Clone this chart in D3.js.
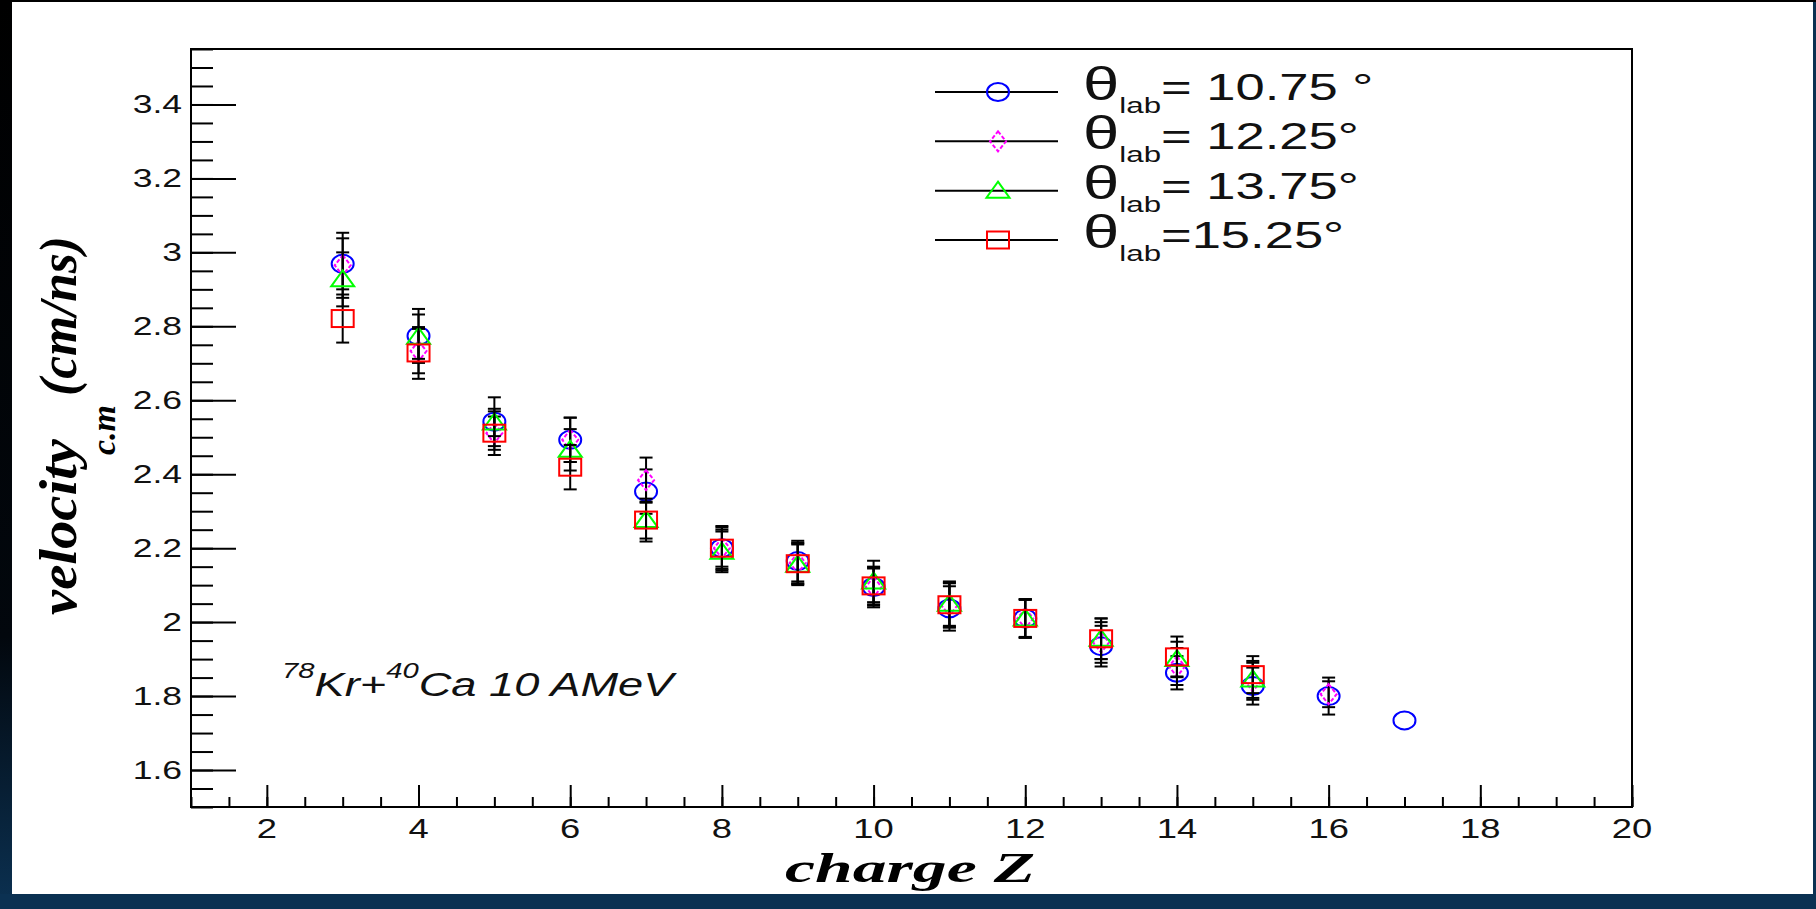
<!DOCTYPE html>
<html>
<head>
<meta charset="utf-8">
<script src="https://cdn.jsdelivr.net/npm/d3@7"></script>
<style>
  html, body { margin: 0; padding: 0; background: #fff; overflow: hidden; }
</style>
</head>
<body>
<svg id="chart" width="1816" height="909"></svg>
<script>
/* ---------------------------- data ---------------------------- */
const chargeZ = [3, 4, 5, 6, 7, 8, 9, 10, 11, 12, 13, 14, 15, 16, 17];

const vel1075 = [2.969, 2.774, 2.542, 2.493, 2.353, 2.20, 2.165, 2.095, 2.037, 2.01, 1.935, 1.863, 1.827, 1.80, 1.734];
const err1075 = [0.069, 0.073, 0.066, 0.06, 0.06, 0.056, 0.055, 0.05, 0.06, 0.052, 0.055, 0.045, 0.05, 0.05, 0];

const vel1225 = [2.965, 2.733, 2.511, 2.493, 2.384, 2.20, 2.16, 2.095, 2.045, 2.01, 1.945, 1.88, 1.84, 1.805];
const err1225 = [0.088, 0.06, 0.045, 0.06, 0.061, 0.05, 0.055, 0.055, 0.06, 0.05, 0.055, 0.05, 0.05, 0.035];

const vel1375 = [2.927, 2.772, 2.54, 2.466, 2.276, 2.19, 2.155, 2.11, 2.05, 2.01, 1.955, 1.90, 1.845];
const err1375 = [0.073, 0.06, 0.037, 0.056, 0.058, 0.055, 0.055, 0.056, 0.06, 0.052, 0.055, 0.047, 0.05];

const vel1525 = [2.821, 2.728, 2.511, 2.419, 2.276, 2.20, 2.158, 2.098, 2.047, 2.01, 1.955, 1.906, 1.858];
const err1525 = [0.065, 0.07, 0.059, 0.06, 0.05, 0.06, 0.055, 0.05, 0.06, 0.052, 0.055, 0.055, 0.05];

const legendLabels = ['= 10.75 \u00b0', '= 12.25\u00b0', '= 13.75\u00b0', '=15.25\u00b0'];

const xTicks = [2, 4, 6, 8, 10, 12, 14, 16, 18, 20];
const yTicks = [1.6, 1.8, 2.0, 2.2, 2.4, 2.6, 2.8, 3.0, 3.2, 3.4];
const yTickLabels = ['1.6', '1.8', '2', '2.2', '2.4', '2.6', '2.8', '3', '3.2', '3.4'];

/* ---------------------------------- layout ---------------------------------- */
const frame = { left: 191, right: 1632, top: 49, bottom: 807 };
const sans = '"Liberation Sans", Arial, Helvetica, sans-serif';
const serif = '"Liberation Serif", "Times New Roman", serif';

const series = [
  { values: vel1075, errors: err1075, color: '#0000ff', shape: 'circle' },
  { values: vel1225, errors: err1225, color: '#ff00ff', shape: 'diamond' },
  { values: vel1375, errors: err1375, color: '#00ff00', shape: 'triangle' },
  { values: vel1525, errors: err1525, color: '#ff0000', shape: 'square' },
];

const svg = d3.select('#chart');

const x = d3.scaleLinear().domain([1, 20]).range([frame.left, frame.right]);
const y = d3.scaleLinear().domain([1.5, 3.55]).range([frame.bottom, frame.top]);

// slide background around the picture
const defs = svg.append('defs');
const grad = defs.append('linearGradient').attr('id', 'edge').attr('x1', 0).attr('y1', 0).attr('x2', 0).attr('y2', 1);
grad.append('stop').attr('offset', '0%').attr('stop-color', '#000');
grad.append('stop').attr('offset', '70%').attr('stop-color', '#02070d');
grad.append('stop').attr('offset', '100%').attr('stop-color', '#0b3152');

svg.append('rect').attr('width', 1816).attr('height', 909).attr('fill', '#fff');
svg.append('rect').attr('width', 12).attr('height', 909).attr('fill', 'url(#edge)');
svg.append('rect').attr('y', 894).attr('width', 1816).attr('height', 15).attr('fill', '#0b3152');
svg.append('rect').attr('x', 1813).attr('width', 3).attr('height', 909).attr('fill', '#0b3152');
svg.append('rect').attr('width', 1816).attr('height', 2).attr('fill', '#000');

// stretch a text horizontally about its anchor (the picture is widened)
const stretch = (sel, sx, ax, ay) => sel.attr('transform', `translate(${ax},${ay}) scale(${sx},1)`);

/* ----------------------------------- axes ----------------------------------- */
const yMinor = d3.range(0, 42).map((i) => +(1.5 + i * 0.05).toFixed(2));
const xMinor = d3.range(0, 39).map((i) => 1 + i * 0.5);

const tickAxis = (axis, g) => {
  g.call(axis);
  g.select('.domain').remove();
  g.selectAll('line').attr('stroke', '#000').attr('stroke-width', 2);
};

tickAxis(d3.axisLeft(y).tickValues(yMinor).tickSize(-22).tickFormat(''),
  svg.append('g').attr('transform', `translate(${frame.left},0)`));
tickAxis(d3.axisLeft(y).tickValues(yTicks).tickSize(-45).tickFormat(''),
  svg.append('g').attr('transform', `translate(${frame.left},0)`));
tickAxis(d3.axisBottom(x).tickValues(xMinor).tickSize(-10).tickFormat(''),
  svg.append('g').attr('transform', `translate(0,${frame.bottom})`));
tickAxis(d3.axisBottom(x).tickValues(xTicks).tickSize(-22).tickFormat(''),
  svg.append('g').attr('transform', `translate(0,${frame.bottom})`));

svg.append('rect')
  .attr('x', frame.left).attr('y', frame.top)
  .attr('width', frame.right - frame.left).attr('height', frame.bottom - frame.top)
  .attr('fill', 'none').attr('stroke', '#000').attr('stroke-width', 2);

// tick labels
svg.append('g').selectAll('text').data(yTicks).enter().append('text')
  .attr('font-family', sans).attr('font-size', 25).attr('fill', '#111')
  .attr('text-anchor', 'end')
  .text((d, i) => yTickLabels[i])
  .each(function (d) { stretch(d3.select(this), 1.42, frame.left - 9, y(d) + 9); });

svg.append('g').selectAll('text').data(xTicks).enter().append('text')
  .attr('font-family', sans).attr('font-size', 28).attr('fill', '#111')
  .attr('text-anchor', 'middle')
  .text((d) => d)
  .each(function (d) { stretch(d3.select(this), 1.3, x(d), 838); });

// axis titles
const xTitle = svg.append('text')
  .attr('font-family', serif).attr('font-size', 42)
  .attr('font-weight', 'bold').attr('font-style', 'italic')
  .attr('text-anchor', 'middle')
  .text('charge Z');
stretch(xTitle, 250 / xTitle.node().getComputedTextLength(), 910, 882);

// y title in three pieces read along the axis: word, subscript, unit
const yTitleParts = [
  { text: 'velocity', size: 53, base: 76, start: 615, length: 176 },
  { text: 'c.m', size: 34, base: 115, start: 455, length: 50 },
  { text: '(cm/ns)', size: 53, base: 76, start: 396, length: 160 },
];
yTitleParts.forEach((p) => {
  svg.append('text')
    .attr('font-family', serif).attr('font-size', p.size)
    .attr('font-weight', 'bold').attr('font-style', 'italic')
    .attr('textLength', p.length).attr('lengthAdjust', 'spacingAndGlyphs')
    .attr('transform', `translate(${p.base},${p.start}) rotate(-90)`)
    .text(p.text);
});

// reaction annotation
const note = svg.append('text').attr('font-family', sans).attr('font-style', 'italic').attr('fill', '#111');
note.append('tspan').attr('font-size', 22).attr('dy', -18).text('78');
note.append('tspan').attr('font-size', 34).attr('dy', 18).text('Kr+');
note.append('tspan').attr('font-size', 22).attr('dy', -18).text('40');
note.append('tspan').attr('font-size', 34).attr('dy', 18).text('Ca 10 AMeV');
stretch(note, 1.33, 282, 696);

/* ---------------------------------- markers ---------------------------------- */
const drawMarker = (g, shape, color) => {
  if (shape === 'circle') {
    g.append('ellipse').attr('rx', 11).attr('ry', 9);
  } else if (shape === 'diamond') {
    g.append('path').attr('d', 'M0,-10L8,0L0,10L-8,0Z').attr('stroke-dasharray', '4,2');
  } else if (shape === 'triangle') {
    g.append('path').attr('d', 'M0,-9L11.5,7L-11.5,7Z');
  } else {
    g.append('rect').attr('x', -11).attr('y', -8.5).attr('width', 22).attr('height', 17);
  }
  g.selectAll('*').attr('fill', 'none').attr('stroke', color).attr('stroke-width', 2);
};

series.forEach((s) => {
  const pts = s.values.map((v, i) => ({ z: chargeZ[i], v, e: s.errors[i] }));
  const g = svg.append('g');

  const bars = g.selectAll('.err').data(pts.filter((p) => p.e > 0)).enter().append('g')
    .attr('stroke', '#000').attr('stroke-width', 2);
  bars.append('line')
    .attr('x1', (d) => x(d.z)).attr('x2', (d) => x(d.z))
    .attr('y1', (d) => y(d.v - d.e)).attr('y2', (d) => y(d.v + d.e));
  bars.append('line')
    .attr('x1', (d) => x(d.z) - 6.5).attr('x2', (d) => x(d.z) + 6.5)
    .attr('y1', (d) => y(d.v + d.e)).attr('y2', (d) => y(d.v + d.e));
  bars.append('line')
    .attr('x1', (d) => x(d.z) - 6.5).attr('x2', (d) => x(d.z) + 6.5)
    .attr('y1', (d) => y(d.v - d.e)).attr('y2', (d) => y(d.v - d.e));

  g.selectAll('.pt').data(pts).enter().append('g')
    .attr('transform', (d) => `translate(${x(d.z)},${y(d.v)})`)
    .each(function () { drawMarker(d3.select(this), s.shape, s.color); });
});

/* ----------------------------------- legend ----------------------------------- */
const legendY = d3.scalePoint().domain(d3.range(series.length)).range([92, 240]);

series.forEach((s, i) => {
  const ly = legendY(i);
  svg.append('line').attr('x1', 935).attr('x2', 1058).attr('y1', ly).attr('y2', ly)
    .attr('stroke', '#000').attr('stroke-width', 2);
  drawMarker(svg.append('g').attr('transform', `translate(998,${ly})`), s.shape, s.color);

  const t = svg.append('text').attr('font-family', sans).attr('fill', '#111');
  t.append('tspan').attr('font-size', 46).text('\u03b8');
  t.append('tspan').attr('font-size', 22).attr('dy', 13).text('lab');
  t.append('tspan').attr('font-size', 37).attr('dy', -13).text(legendLabels[i]);
  stretch(t, 1.42, 1083, ly + 8);
});
</script>
</body>
</html>
